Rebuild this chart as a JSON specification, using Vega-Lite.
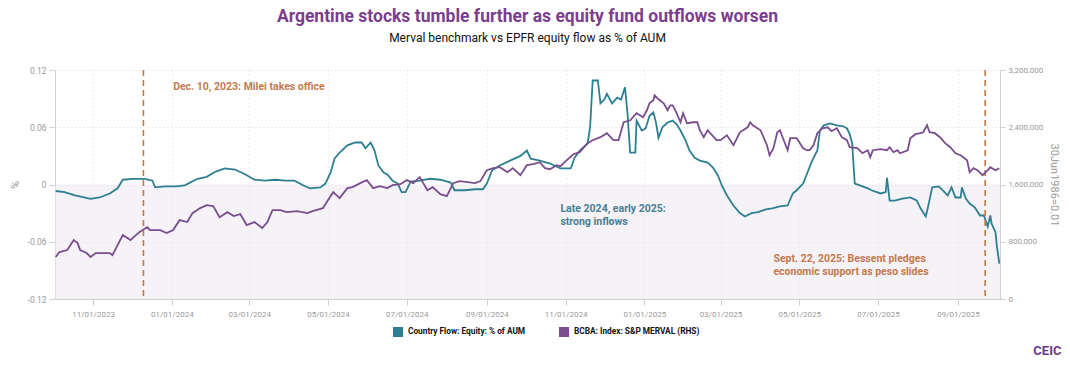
{
  "$schema": "https://vega.github.io/schema/vega-lite/v6.json",
  "autosize": "none",
  "width": 945,
  "height": 229,
  "padding": {"left": 55, "top": 70, "right": 70, "bottom": 66},
  "background": "white",
  "config": {"view": {"stroke": null}, "font": "Roboto"},
  "title": {
    "text": "Argentine stocks tumble further as equity fund outflows worsen",
    "subtitle": "Merval benchmark vs EPFR equity flow as % of AUM",
    "anchor": "middle",
    "font": "Roboto",
    "fontSize": 17.5,
    "fontWeight": "bold",
    "color": "#7a3e8c",
    "subtitleFont": "Roboto",
    "subtitleFontSize": 12,
    "subtitleColor": "#111111",
    "subtitlePadding": 8,
    "offset": 22
  },
  "datasets": {
    "flow": [
      {"d":"2023-10-03","v":-0.0068},{"d":"2023-10-10","v":-0.008},{"d":"2023-10-18","v":-0.0115},{"d":"2023-10-30","v":-0.015},
      {"d":"2023-11-06","v":-0.0136},{"d":"2023-11-14","v":-0.0094},{"d":"2023-11-20","v":-0.004},{"d":"2023-11-24","v":0.005},
      {"d":"2023-12-02","v":0.006},{"d":"2023-12-11","v":0.006},{"d":"2023-12-17","v":0.004},{"d":"2023-12-19","v":-0.003},
      {"d":"2023-12-27","v":-0.002},{"d":"2024-01-04","v":-0.002},{"d":"2024-01-11","v":-0.001},{"d":"2024-01-15","v":0.002},
      {"d":"2024-01-21","v":0.006},{"d":"2024-01-28","v":0.008},{"d":"2024-02-04","v":0.0136},{"d":"2024-02-11","v":0.0168},
      {"d":"2024-02-19","v":0.0157},{"d":"2024-02-27","v":0.0105},{"d":"2024-03-05","v":0.005},{"d":"2024-03-13","v":0.004},
      {"d":"2024-03-21","v":0.005},{"d":"2024-03-29","v":0.004},{"d":"2024-04-05","v":0.004},{"d":"2024-04-12","v":-0.001},
      {"d":"2024-04-17","v":-0.004},{"d":"2024-04-25","v":-0.003},{"d":"2024-04-29","v":0.001},{"d":"2024-05-03","v":0.0126},
      {"d":"2024-05-06","v":0.027},{"d":"2024-05-10","v":0.0335},{"d":"2024-05-16","v":0.041},{"d":"2024-05-22","v":0.044},
      {"d":"2024-05-27","v":0.044},{"d":"2024-05-30","v":0.038},{"d":"2024-06-03","v":0.044},{"d":"2024-06-06","v":0.0356},
      {"d":"2024-06-09","v":0.02},{"d":"2024-06-13","v":0.0126},{"d":"2024-06-16","v":0.0105},{"d":"2024-06-20","v":0.004},
      {"d":"2024-06-24","v":0.001},{"d":"2024-06-27","v":-0.008},{"d":"2024-06-30","v":-0.008},{"d":"2024-07-04","v":0.003},
      {"d":"2024-07-11","v":0.004},{"d":"2024-07-19","v":0.006},{"d":"2024-07-27","v":0.005},{"d":"2024-08-04","v":0.002},
      {"d":"2024-08-07","v":-0.006},{"d":"2024-08-15","v":-0.006},{"d":"2024-08-23","v":-0.005},{"d":"2024-08-29","v":-0.005},
      {"d":"2024-09-01","v":0.001},{"d":"2024-09-05","v":0.0147},{"d":"2024-09-11","v":0.02},{"d":"2024-09-19","v":0.025},
      {"d":"2024-09-27","v":0.03},{"d":"2024-10-02","v":0.0356},{"d":"2024-10-05","v":0.027},{"d":"2024-10-12","v":0.025},
      {"d":"2024-10-20","v":0.022},{"d":"2024-10-28","v":0.0168},{"d":"2024-11-05","v":0.0168},{"d":"2024-11-08","v":0.028},
      {"d":"2024-11-12","v":0.0356},{"d":"2024-11-18","v":0.043},{"d":"2024-11-20","v":0.06},{"d":"2024-11-22","v":0.109},
      {"d":"2024-11-26","v":0.109},{"d":"2024-11-28","v":0.085},{"d":"2024-12-01","v":0.089},{"d":"2024-12-03","v":0.095},
      {"d":"2024-12-07","v":0.085},{"d":"2024-12-11","v":0.091},{"d":"2024-12-14","v":0.089},{"d":"2024-12-17","v":0.102},
      {"d":"2024-12-19","v":0.074},{"d":"2024-12-21","v":0.0335},{"d":"2024-12-25","v":0.0335},{"d":"2024-12-26","v":0.067},
      {"d":"2024-12-30","v":0.0566},{"d":"2025-01-02","v":0.0587},{"d":"2025-01-05","v":0.072},{"d":"2025-01-08","v":0.0755},
      {"d":"2025-01-10","v":0.065},{"d":"2025-01-12","v":0.049},{"d":"2025-01-15","v":0.06},{"d":"2025-01-19","v":0.065},
      {"d":"2025-01-23","v":0.067},{"d":"2025-01-26","v":0.063},{"d":"2025-01-29","v":0.0566},{"d":"2025-02-02","v":0.046},
      {"d":"2025-02-05","v":0.0356},{"d":"2025-02-09","v":0.028},{"d":"2025-02-13","v":0.025},{"d":"2025-02-19","v":0.023},
      {"d":"2025-02-23","v":0.018},{"d":"2025-02-27","v":0.0094},{"d":"2025-03-02","v":-0.001},{"d":"2025-03-06","v":-0.0115},
      {"d":"2025-03-11","v":-0.022},{"d":"2025-03-16","v":-0.03},{"d":"2025-03-20","v":-0.0335},{"d":"2025-03-25","v":-0.03},
      {"d":"2025-03-30","v":-0.029},{"d":"2025-04-05","v":-0.026},{"d":"2025-04-10","v":-0.025},{"d":"2025-04-16","v":-0.023},
      {"d":"2025-04-22","v":-0.022},{"d":"2025-04-26","v":-0.0094},{"d":"2025-04-29","v":-0.006},{"d":"2025-05-04","v":0.001},
      {"d":"2025-05-08","v":0.0147},{"d":"2025-05-11","v":0.025},{"d":"2025-05-15","v":0.0356},{"d":"2025-05-17","v":0.0566},
      {"d":"2025-05-20","v":0.062},{"d":"2025-05-25","v":0.064},{"d":"2025-05-30","v":0.062},{"d":"2025-06-04","v":0.061},
      {"d":"2025-06-07","v":0.0587},{"d":"2025-06-09","v":0.053},{"d":"2025-06-11","v":0.043},{"d":"2025-06-13","v":0.001},
      {"d":"2025-06-17","v":-0.001},{"d":"2025-06-23","v":-0.004},{"d":"2025-06-26","v":-0.006},{"d":"2025-07-03","v":-0.0094},
      {"d":"2025-07-07","v":-0.008},{"d":"2025-07-08","v":0.007},{"d":"2025-07-10","v":-0.0168},{"d":"2025-07-14","v":-0.0168},
      {"d":"2025-07-20","v":-0.0147},{"d":"2025-07-26","v":-0.0136},{"d":"2025-07-31","v":-0.0168},{"d":"2025-08-03","v":-0.025},
      {"d":"2025-08-07","v":-0.0335},{"d":"2025-08-09","v":-0.022},{"d":"2025-08-12","v":-0.003},{"d":"2025-08-17","v":-0.002},
      {"d":"2025-08-20","v":-0.006},{"d":"2025-08-24","v":-0.0115},{"d":"2025-08-27","v":-0.003},{"d":"2025-08-30","v":-0.0136},
      {"d":"2025-09-03","v":-0.0136},{"d":"2025-09-04","v":-0.003},{"d":"2025-09-07","v":-0.0147},{"d":"2025-09-10","v":-0.02},
      {"d":"2025-09-14","v":-0.024},{"d":"2025-09-18","v":-0.0325},{"d":"2025-09-21","v":-0.0325},{"d":"2025-09-24","v":-0.044},
      {"d":"2025-09-26","v":-0.0325},{"d":"2025-09-27","v":-0.041},{"d":"2025-09-30","v":-0.05},{"d":"2025-10-01","v":-0.064},
      {"d":"2025-10-03","v":-0.083}
    ],
    "merval": [
      {"d":"2023-10-03","v":586000},{"d":"2023-10-06","v":656000},{"d":"2023-10-12","v":684000},{"d":"2023-10-17","v":823000},
      {"d":"2023-10-20","v":781000},{"d":"2023-10-22","v":684000},{"d":"2023-10-27","v":642000},{"d":"2023-10-30","v":586000},
      {"d":"2023-11-03","v":642000},{"d":"2023-11-09","v":642000},{"d":"2023-11-14","v":642000},{"d":"2023-11-16","v":614000},
      {"d":"2023-11-20","v":754000},{"d":"2023-11-24","v":893000},{"d":"2023-11-30","v":823000},{"d":"2023-12-05","v":907000},
      {"d":"2023-12-07","v":935000},{"d":"2023-12-13","v":1005000},{"d":"2023-12-15","v":963000},{"d":"2023-12-23","v":963000},
      {"d":"2023-12-28","v":921000},{"d":"2024-01-02","v":963000},{"d":"2024-01-07","v":1102000},{"d":"2024-01-13","v":1075000},
      {"d":"2024-01-17","v":1200000},{"d":"2024-01-23","v":1270000},{"d":"2024-01-28","v":1312000},{"d":"2024-02-02","v":1298000},
      {"d":"2024-02-07","v":1144000},{"d":"2024-02-13","v":1214000},{"d":"2024-02-18","v":1158000},{"d":"2024-02-23","v":1186000},
      {"d":"2024-02-28","v":1033000},{"d":"2024-03-05","v":1075000},{"d":"2024-03-11","v":991000},{"d":"2024-03-15","v":1075000},
      {"d":"2024-03-19","v":1242000},{"d":"2024-03-25","v":1242000},{"d":"2024-03-30","v":1214000},{"d":"2024-04-07","v":1228000},
      {"d":"2024-04-15","v":1200000},{"d":"2024-04-19","v":1228000},{"d":"2024-04-27","v":1270000},{"d":"2024-04-30","v":1354000},
      {"d":"2024-05-05","v":1493000},{"d":"2024-05-10","v":1409000},{"d":"2024-05-16","v":1549000},{"d":"2024-05-20","v":1563000},
      {"d":"2024-05-26","v":1619000},{"d":"2024-05-31","v":1661000},{"d":"2024-06-05","v":1549000},{"d":"2024-06-10","v":1577000},
      {"d":"2024-06-16","v":1549000},{"d":"2024-06-20","v":1591000},{"d":"2024-06-26","v":1605000},{"d":"2024-07-01","v":1661000},
      {"d":"2024-07-06","v":1619000},{"d":"2024-07-11","v":1703000},{"d":"2024-07-17","v":1521000},{"d":"2024-07-21","v":1563000},
      {"d":"2024-07-27","v":1465000},{"d":"2024-08-01","v":1437000},{"d":"2024-08-06","v":1619000},{"d":"2024-08-11","v":1647000},
      {"d":"2024-08-17","v":1633000},{"d":"2024-08-23","v":1619000},{"d":"2024-08-27","v":1647000},{"d":"2024-09-01","v":1800000},
      {"d":"2024-09-06","v":1828000},{"d":"2024-09-11","v":1842000},{"d":"2024-09-17","v":1772000},{"d":"2024-09-21","v":1828000},
      {"d":"2024-09-27","v":1730000},{"d":"2024-10-02","v":1870000},{"d":"2024-10-07","v":1884000},{"d":"2024-10-12","v":1912000},
      {"d":"2024-10-16","v":1828000},{"d":"2024-10-20","v":1814000},{"d":"2024-10-25","v":1870000},{"d":"2024-10-28","v":1856000},
      {"d":"2024-11-02","v":1940000},{"d":"2024-11-07","v":2023000},{"d":"2024-11-12","v":2051000},{"d":"2024-11-18","v":2177000},
      {"d":"2024-11-22","v":2219000},{"d":"2024-11-28","v":2261000},{"d":"2024-12-03","v":2317000},{"d":"2024-12-08","v":2219000},
      {"d":"2024-12-12","v":2219000},{"d":"2024-12-16","v":2470000},{"d":"2024-12-21","v":2498000},{"d":"2024-12-26","v":2596000},
      {"d":"2024-12-31","v":2540000},{"d":"2025-01-03","v":2637000},{"d":"2025-01-05","v":2735000},{"d":"2025-01-08","v":2777000},
      {"d":"2025-01-09","v":2847000},{"d":"2025-01-12","v":2791000},{"d":"2025-01-16","v":2735000},{"d":"2025-01-19","v":2637000},
      {"d":"2025-01-21","v":2707000},{"d":"2025-01-23","v":2707000},{"d":"2025-01-26","v":2596000},{"d":"2025-01-29","v":2470000},
      {"d":"2025-01-31","v":2596000},{"d":"2025-02-03","v":2456000},{"d":"2025-02-08","v":2470000},{"d":"2025-02-11","v":2470000},
      {"d":"2025-02-13","v":2358000},{"d":"2025-02-16","v":2261000},{"d":"2025-02-19","v":2358000},{"d":"2025-02-21","v":2317000},
      {"d":"2025-02-26","v":2219000},{"d":"2025-03-01","v":2219000},{"d":"2025-03-06","v":2289000},{"d":"2025-03-11","v":2149000},
      {"d":"2025-03-16","v":2330000},{"d":"2025-03-22","v":2400000},{"d":"2025-03-24","v":2470000},{"d":"2025-03-26","v":2428000},
      {"d":"2025-04-01","v":2358000},{"d":"2025-04-06","v":2149000},{"d":"2025-04-08","v":2009000},{"d":"2025-04-11","v":2107000},
      {"d":"2025-04-14","v":2330000},{"d":"2025-04-16","v":2358000},{"d":"2025-04-19","v":2219000},{"d":"2025-04-22","v":2079000},
      {"d":"2025-04-24","v":2247000},{"d":"2025-04-29","v":2247000},{"d":"2025-05-04","v":2107000},{"d":"2025-05-07","v":2079000},
      {"d":"2025-05-09","v":2079000},{"d":"2025-05-12","v":2149000},{"d":"2025-05-15","v":2317000},{"d":"2025-05-19","v":2386000},
      {"d":"2025-05-23","v":2400000},{"d":"2025-05-26","v":2345000},{"d":"2025-05-30","v":2386000},{"d":"2025-06-03","v":2261000},
      {"d":"2025-06-07","v":2219000},{"d":"2025-06-09","v":2121000},{"d":"2025-06-15","v":2107000},{"d":"2025-06-19","v":2037000},
      {"d":"2025-06-23","v":2079000},{"d":"2025-06-25","v":1982000},{"d":"2025-06-27","v":2079000},{"d":"2025-07-03","v":2093000},
      {"d":"2025-07-08","v":2079000},{"d":"2025-07-10","v":2121000},{"d":"2025-07-13","v":2051000},{"d":"2025-07-16","v":2079000},
      {"d":"2025-07-18","v":2037000},{"d":"2025-07-24","v":2079000},{"d":"2025-07-26","v":2247000},{"d":"2025-07-30","v":2303000},
      {"d":"2025-08-03","v":2317000},{"d":"2025-08-05","v":2330000},{"d":"2025-08-08","v":2428000},{"d":"2025-08-10","v":2330000},
      {"d":"2025-08-14","v":2317000},{"d":"2025-08-18","v":2261000},{"d":"2025-08-22","v":2177000},{"d":"2025-08-26","v":2121000},
      {"d":"2025-08-30","v":2037000},{"d":"2025-09-03","v":2009000},{"d":"2025-09-05","v":1982000},{"d":"2025-09-08","v":1940000},
      {"d":"2025-09-10","v":1772000},{"d":"2025-09-13","v":1828000},{"d":"2025-09-16","v":1800000},{"d":"2025-09-20","v":1730000},
      {"d":"2025-09-24","v":1800000},{"d":"2025-09-26","v":1842000},{"d":"2025-09-30","v":1800000},{"d":"2025-10-03","v":1828000}
    ],
    "events": [
      {"d":"2023-12-10"},{"d":"2025-09-22"}
    ],
    "eventnotes": [
      {"d":"2024-01-02","v":0.1017,"t":"Dec. 10, 2023: Milei takes office"},
      {"d":"2025-04-11","v":-0.0777,"t":"Sept. 22, 2025: Bessent pledges"},
      {"d":"2025-04-11","v":-0.0913,"t":"economic support as peso slides"}
    ],
    "flownotes": [
      {"d":"2024-10-28","v":-0.0252,"t":"Late 2024, early 2025:"},
      {"d":"2024-10-28","v":-0.0398,"t":"strong inflows"}
    ],
    "band": [
      {"d0":"2023-10-02T12:00:00","d1":"2025-10-03T12:00:00","lo":-0.12,"hi":0}
    ]
  },
  "layer": [
    {
      "layer": [
        {
          "data": {"name": "band"},
          "mark": {"type": "rect", "fill": "#ece8f2", "opacity": 0.55},
          "encoding": {
            "x": {"field": "d0", "type": "temporal"},
            "x2": {"field": "d1"},
            "y": {"field": "hi", "type": "quantitative"},
            "y2": {"field": "lo"}
          }
        },
        {
          "data": {"name": "flow"},
          "mark": {"type": "line", "strokeWidth": 1.8, "interpolate": "linear"},
          "encoding": {
            "x": {
              "field": "d", "type": "temporal",
              "scale": {"domain": ["2023-10-02T12:00:00", "2025-10-03T12:00:00"]},
              "axis": {
                "title": "CEIC",
                "titleColor": "#6a3a8c",
                "titleFont": "Roboto",
                "titleFontWeight": "bold",
                "titleFontSize": 13,
                "titleAnchor": "end",
                "titleAlign": "right",
                "titleBaseline": "middle",
                "titleX": 1006,
                "titleY": 51,
                "format": "%m/%d/%Y",
                "values": [
                  {"year":2023,"month":11,"date":1},{"year":2024,"month":1,"date":1},{"year":2024,"month":3,"date":1},
                  {"year":2024,"month":5,"date":1},{"year":2024,"month":7,"date":1},{"year":2024,"month":9,"date":1},
                  {"year":2024,"month":11,"date":1},{"year":2025,"month":1,"date":1},{"year":2025,"month":3,"date":1},
                  {"year":2025,"month":5,"date":1},{"year":2025,"month":7,"date":1},{"year":2025,"month":9,"date":1}
                ],
                "labelFont": "Roboto",
                "labelFontSize": 8,
                "labelColor": "#9a9a9a",
                "labelPadding": 5,
                "tickSize": 6,
                "tickColor": "#d0d0d0",
                "domainColor": "#d0d0d0",
                "grid": true,
                "gridColor": "#dcdcdc",
                "gridDash": [1, 3],
                "labelAngle": 0
              }
            },
            "y": {
              "field": "v", "type": "quantitative",
              "scale": {"domain": [-0.12, 0.12], "nice": false, "zero": false},
              "axis": {
                "title": "%",
                "titleColor": "#9a9a9a",
                "titleFont": "Roboto",
                "titleFontWeight": "normal",
                "titleFontSize": 11,
                "titlePadding": 7,
                "values": [-0.12, -0.06, 0, 0.06, 0.12],
                "labelExpr": "datum.value == 0 ? '0' : replace(format(datum.value, '.2f'), '\u2212', '-')",
                "labelFont": "Roboto",
                "labelFontSize": 8.5,
                "labelColor": "#9a9a9a",
                "labelPadding": 3,
                "tickSize": 6,
                "tickColor": "#d0d0d0",
                "domainColor": "#d0d0d0",
                "grid": true,
                "gridColor": "#dcdcdc",
                "gridDash": [1, 3]
              }
            },
            "color": {
              "datum": "Country Flow: Equity: % of AUM",
              "scale": {
                "domain": ["Country Flow: Equity: % of AUM", "BCBA: Index: S&P MERVAL (RHS)"],
                "range": ["#2e7f91", "#7a4d8e"]
              },
              "legend": {
                "title": null,
                "orient": "none",
                "legendX": 338,
                "legendY": 257,
                "direction": "horizontal",
                "symbolType": "square",
                "symbolSize": 64,
                "symbolStrokeWidth": 2,
                "columnPadding": 30,
                "labelFont": "Roboto",
                "labelFontWeight": "bold",
                "labelFontSize": 8.3,
                "labelColor": "#111111",
                "labelOffset": 5,
                "encode": {"symbols": {"update": {"fill": {"scale": "color", "field": "value"}, "fillOpacity": {"value": 1}}}}
              }
            }
          }
        },
        {
          "mark": {"type": "rule", "color": "#9e9e9e", "strokeWidth": 2},
          "encoding": {"y": {"datum": 0, "type": "quantitative"}}
        },
        {
          "data": {"name": "events"},
          "mark": {"type": "rule", "color": "#c8783e", "strokeWidth": 1.6, "strokeDash": [6, 4]},
          "encoding": {"x": {"field": "d", "type": "temporal"}}
        },
        {
          "data": {"name": "eventnotes"},
          "mark": {"type": "text", "align": "left", "baseline": "middle", "font": "Roboto", "fontWeight": "bold", "fontSize": 10.5, "color": "#c57a4c"},
          "encoding": {
            "x": {"field": "d", "type": "temporal"},
            "y": {"field": "v", "type": "quantitative"},
            "text": {"field": "t"}
          }
        },
        {
          "data": {"name": "flownotes"},
          "mark": {"type": "text", "align": "left", "baseline": "middle", "font": "Roboto", "fontWeight": "bold", "fontSize": 10.5, "color": "#457f96"},
          "encoding": {
            "x": {"field": "d", "type": "temporal"},
            "y": {"field": "v", "type": "quantitative"},
            "text": {"field": "t"}
          }
        }
      ]
    },
    {
      "data": {"name": "merval"},
      "mark": {"type": "line", "strokeWidth": 1.8},
      "encoding": {
        "x": {"field": "d", "type": "temporal"},
        "y": {
          "field": "v", "type": "quantitative",
          "scale": {"domain": [0, 3200000], "nice": false},
          "axis": {
            "orient": "right",
            "title": "30Jun1986=0.01",
            "titleColor": "#9a9a9a",
            "titleFont": "Roboto",
            "titleFontWeight": "normal",
            "titleFontSize": 11,
            "titlePadding": 6,
            "values": [0, 800000, 1600000, 2400000, 3200000],
            "labelExpr": "format(datum.value, ',.0f')",
            "labelFont": "Roboto",
            "labelFontSize": 8,
            "labelColor": "#9a9a9a",
            "labelPadding": 3,
            "tickSize": 5,
            "tickColor": "#d0d0d0",
            "domainColor": "#d0d0d0",
            "grid": false
          }
        },
        "color": {"datum": "BCBA: Index: S&P MERVAL (RHS)"}
      }
    }
  ],
  "resolve": {"scale": {"y": "independent", "color": "shared"}}
}
